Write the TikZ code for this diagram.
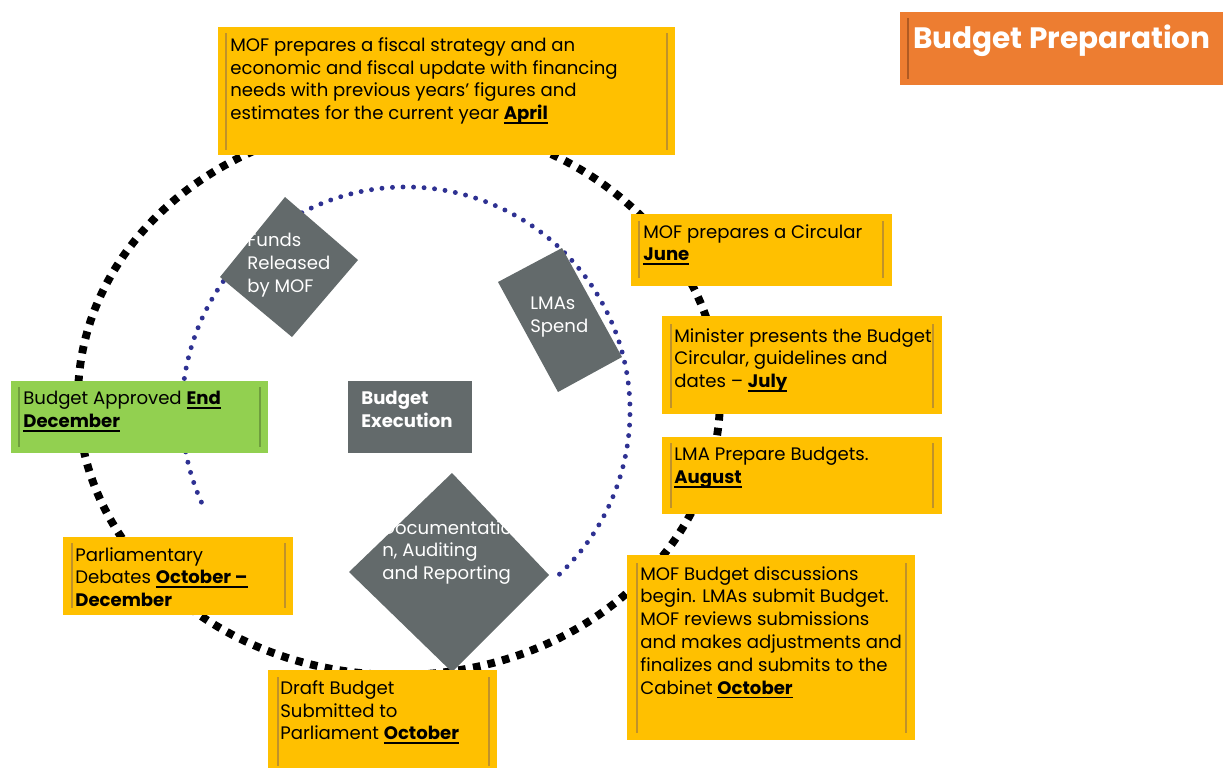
\documentclass[tikz,border=0pt]{standalone}
\usepackage{fontspec}
\setmainfont{Poppins}
\definecolor{cardgold}{HTML}{FFC000}
\definecolor{cardgreen}{HTML}{92D050}
\definecolor{cardorange}{HTML}{ED7D31}
\definecolor{shapegray}{HTML}{636A6B}
\definecolor{dotblue}{HTML}{2E3192}
\definecolor{rulegold}{HTML}{C0922A}
\definecolor{rulegreen}{HTML}{6F9E3E}
\definecolor{ruleorange}{HTML}{B05A22}
% bold month with a heavy underline
\newcommand{\monthmark}[1]{\setbox0\hbox{\textbf{#1}}\rlap{\rule[-2.3pt]{\wd0}{1pt}}\box0}

\begin{document}
\begin{tikzpicture}[x=0.02cm, y=-0.02cm]
    \tikzstyle{ring} = [draw=black, line width=4.5pt, dash pattern=on 4.3pt off 4.2pt]
    \tikzstyle{dots} = [draw=dotblue, line width=2.8pt, line cap=round, dash pattern=on 0pt off 6pt]
    \tikzstyle{rule} = [draw=rulegold, line width=0.6pt]
    \tikzstyle{txt}  = [anchor=north west, inner sep=0pt, align=left, font=\fontsize{10.3}{13}\selectfont]
    \tikzstyle{wtxt} = [txt, text=white]
    \useasboundingbox (0,0) rectangle (1223,768);

    % cycles
    \draw [ring] (399,398) ellipse [x radius=321, y radius=277];
    \draw [dots] (406,411) ++(156:224) arc [start angle=156, end angle=409, radius=224];

    % execution shapes
    \fill [shapegray] (285,197) -- (358,260) -- (292,337) -- (220,277) -- cycle;
    \fill [shapegray] (562,248) -- (622,357) -- (558,392) -- (498,282) -- cycle;
    \fill [shapegray] (452,473) -- (549,575) -- (452,672) -- (349,572) -- cycle;
    \fill [shapegray] (348,381) rectangle (472,453);

    % preparation cards
    \fill [cardorange] (900,12) rectangle (1223,85);
    \draw [rule, draw=ruleorange] (908,18) -- (908,79);
    \fill [cardgold] (218,27) rectangle (675,155);
    \draw [rule] (226,33) -- (226,150);  \draw [rule] (667,33) -- (667,150);
    \fill [cardgold] (631,214) rectangle (892,286);
    \draw [rule] (639,221) -- (639,278);  \draw [rule] (883,221) -- (883,278);
    \fill [cardgold] (662,316) rectangle (942,414);
    \draw [rule] (671,324) -- (671,408);  \draw [rule] (933,324) -- (933,408);
    \fill [cardgold] (662,437) rectangle (942,514);
    \draw [rule] (671,443) -- (671,508);  \draw [rule] (933,443) -- (933,508);
    \fill [cardgold] (627,555) rectangle (915,740);
    \draw [rule] (637,563) -- (637,733);  \draw [rule] (906,563) -- (906,733);
    \fill [cardgold] (268,670) rectangle (497,768);
    \draw [rule] (278,677) -- (278,766);  \draw [rule] (489,677) -- (489,766);
    \fill [cardgold] (63,537) rectangle (293,615);
    \draw [rule] (72,543) -- (72,608);  \draw [rule] (285,543) -- (285,608);
    \fill [cardgreen] (11,381) rectangle (268,453);
    \draw [rule, draw=rulegreen] (19,387) -- (19,447);  \draw [rule, draw=rulegreen] (260,387) -- (260,447);

    % texts
    \node (title) [anchor=west, inner sep=0pt, text=white, font=\fontsize{16.8}{19}\selectfont\bfseries] at (913,41) {Budget Preparation};
    \node (april) [txt] at (230,37) {MOF prepares a fiscal strategy and an\\economic and fiscal update with financing\\needs with previous years’ figures and\\estimates for the current year \monthmark{April}};
    \node (june) [txt] at (643,224) {MOF prepares a Circular\\\monthmark{June}};
    \node (july) [txt] at (674,328) {Minister presents the Budget\\Circular, guidelines and\\dates – \monthmark{July}};
    \node (august) [txt] at (674,447) {LMA Prepare Budgets.\\\monthmark{August}};
    \node (cabinet) [txt] at (640,566) {MOF Budget discussions\\begin. LMAs submit Budget.\\MOF reviews submissions\\and makes adjustments and\\finalizes and submits to the\\Cabinet \monthmark{October}};
    \node (draft) [txt] at (280,680) {Draft Budget\\Submitted to\\Parliament \monthmark{October}};
    \node (debates) [txt] at (75,547) {Parliamentary\\Debates \monthmark{October –}\\\textbf{December}};
    \node (approved) [txt] at (23,391) {Budget Approved \monthmark{End}\\\monthmark{December}};
    \node (execution) [wtxt, font=\fontsize{10.3}{13}\selectfont\bfseries] at (361,391) {Budget\\Execution};
    \node (funds) [wtxt] at (247,233) {Funds\\Released\\by MOF};
    \node (spend) [wtxt] at (530,297) {LMAs\\Spend};
    \node (audit) [wtxt] at (382,520) {Documentatio\\n, Auditing\\and Reporting};
\end{tikzpicture}
\end{document}
